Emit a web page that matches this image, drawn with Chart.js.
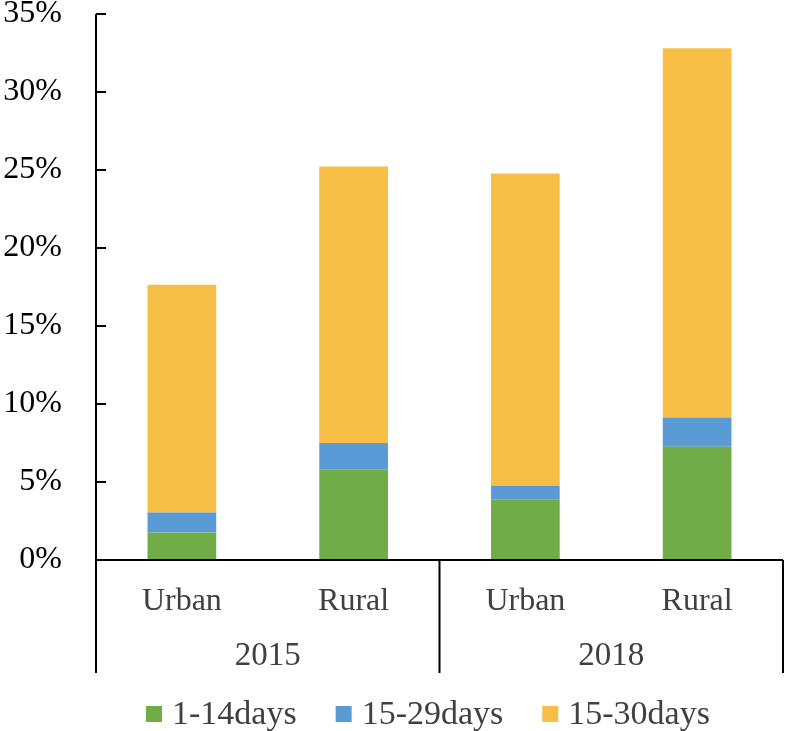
<!DOCTYPE html>
<html>
<head>
<meta charset="utf-8">
<script src="https://cdn.jsdelivr.net/npm/chart.js@4.4.0/dist/chart.umd.min.js"></script>
<style>
  html, body { margin: 0; padding: 0; background: #fff; }
  #wrap { width: 786px; height: 731px; }
</style>
</head>
<body>
<div id="wrap"><canvas id="chart"></canvas></div>
<script>
// datos
const categories = ["Urban", "Rural", "Urban", "Rural"];
const years = ["2015", "2018"];
const days1to14 = [1.77, 5.79, 3.87, 7.26];
const days15to29 = [1.28, 1.71, 0.89, 1.88];
const days15to30 = [14.6, 17.73, 20.02, 23.66];
const yTicks = [0, 5, 10, 15, 20, 25, 30, 35];

const serif = "'Liberation Serif', 'Times New Roman', serif";

// ejes, marcas, etiquetas de año y leyenda
const axisPlugin = {
  id: "axisPlugin",
  afterDraw(chart) {
    const ctx = chart.ctx;
    const x = chart.scales.x;
    const y = chart.scales.y;
    const area = chart.chartArea;
    const bottom = area.bottom + 113;
    ctx.save();
    ctx.strokeStyle = "#000";
    ctx.lineWidth = 2;
    ctx.beginPath();
    // eje y
    ctx.moveTo(area.left, area.top);
    ctx.lineTo(area.left, bottom);
    // eje x
    ctx.moveTo(area.left, area.bottom);
    ctx.lineTo(area.right, area.bottom);
    // separadores
    const mid = (x.getPixelForValue(1) + x.getPixelForValue(2)) / 2;
    ctx.moveTo(mid, area.bottom);
    ctx.lineTo(mid, bottom);
    ctx.moveTo(area.right, area.bottom);
    ctx.lineTo(area.right, bottom);
    // marcas
    yTicks.forEach(function (v) {
      const py = y.getPixelForValue(v);
      ctx.moveTo(area.left, py);
      ctx.lineTo(area.left + 10, py);
    });
    ctx.stroke();

    // años
    ctx.fillStyle = "#404040";
    ctx.font = "33px " + serif;
    ctx.textAlign = "center";
    ctx.textBaseline = "middle";
    const c1 = (x.getPixelForValue(0) + x.getPixelForValue(1)) / 2;
    const c2 = (x.getPixelForValue(2) + x.getPixelForValue(3)) / 2;
    ctx.fillText(years[0], c1, area.bottom + 96);
    ctx.fillText(years[1], c2, area.bottom + 96);

    // leyenda
    ctx.font = "34px " + serif;
    ctx.textAlign = "left";
    let lx = 146;
    const ly = 714;
    chart.data.datasets.forEach(function (ds) {
      ctx.fillStyle = ds.backgroundColor;
      ctx.fillRect(lx, ly - 8, 16, 16);
      ctx.fillStyle = "#404040";
      ctx.fillText(ds.label, lx + 26, ly + 1);
      lx += 26 + ctx.measureText(ds.label).width + 39;
    });
    ctx.restore();
  }
};

new Chart(document.getElementById("chart"), {
  type: "bar",
  data: {
    labels: categories,
    datasets: [
      { label: "1-14days", data: days1to14, backgroundColor: "#70AD47" },
      { label: "15-29days", data: days15to29, backgroundColor: "#5B9BD5" },
      { label: "15-30days", data: days15to30, backgroundColor: "#F7BF46" }
    ]
  },
  options: {
    responsive: true,
    maintainAspectRatio: false,
    animation: false,
    layout: { padding: { top: 0, right: 3, left: 0, bottom: 58 } },
    datasets: { bar: { categoryPercentage: 1, barPercentage: 0.4 } },
    scales: {
      x: {
        stacked: true,
        grid: { display: false, drawTicks: false },
        border: { display: false },
        ticks: {
          color: "#404040",
          font: { family: serif, size: 32 },
          padding: 22,
          maxRotation: 0
        },
        afterFit: function (scale) { scale.height = 113; }
      },
      y: {
        stacked: true,
        min: 0,
        max: 35,
        grid: { display: false, drawTicks: false },
        border: { display: false },
        ticks: {
          stepSize: 5,
          color: "#000",
          font: { family: serif, size: 32 },
          padding: 34,
          callback: function (v) { return v + "%"; }
        },
        afterFit: function (scale) {
          scale.width = 96;
          scale.paddingTop = 14;
          scale.paddingBottom = 0;
        }
      }
    },
    plugins: {
      legend: { display: false },
      tooltip: { enabled: false }
    }
  },
  plugins: [axisPlugin]
});
</script>
</body>
</html>
